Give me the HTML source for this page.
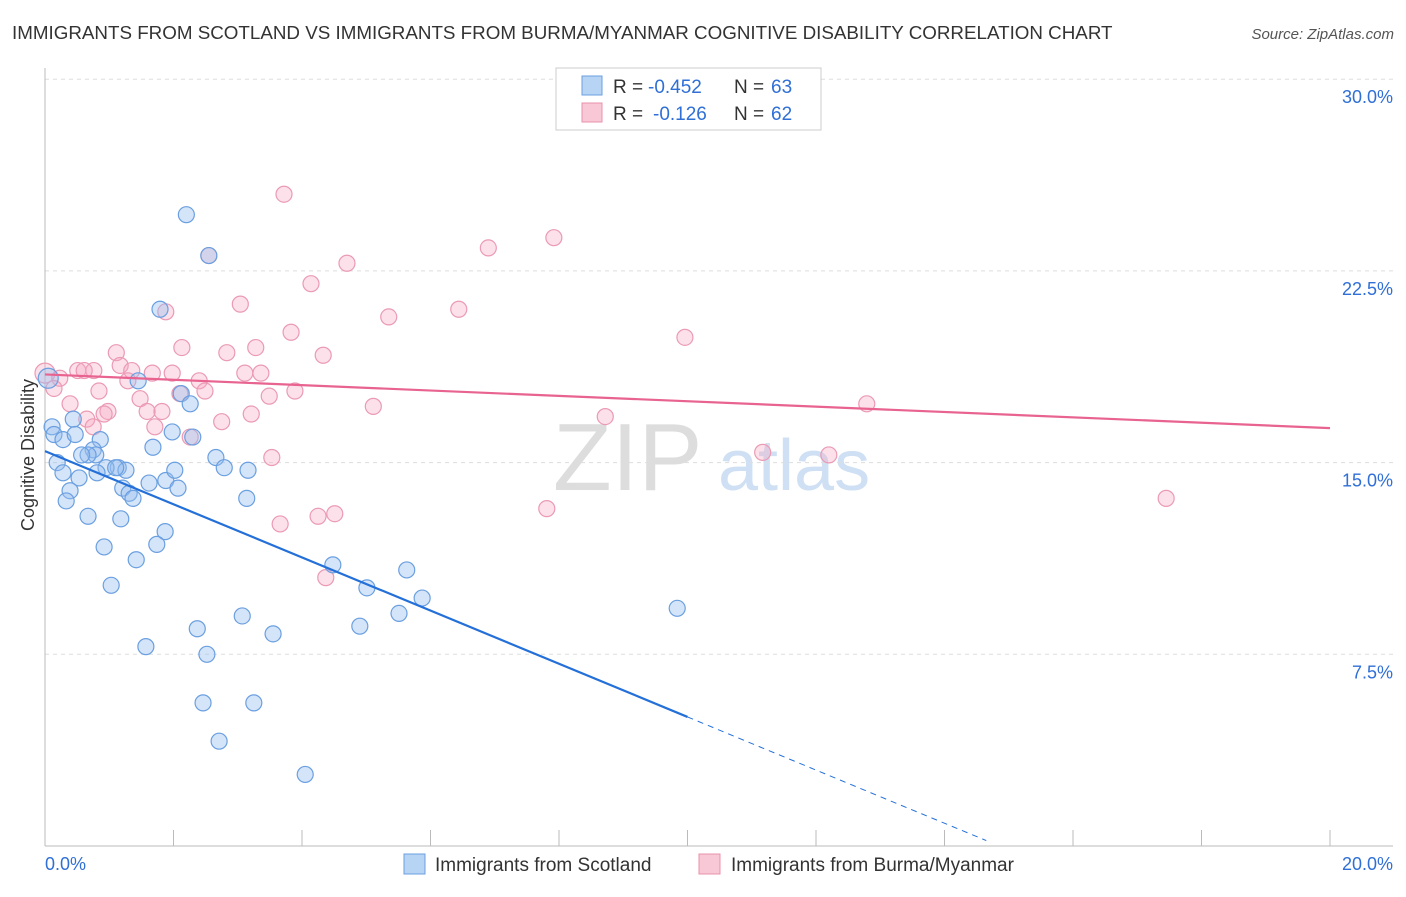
<!DOCTYPE html>
<html><head><meta charset="utf-8"><style>
body{margin:0;background:#fff;font-family:"Liberation Sans",sans-serif}
svg text{font-family:"Liberation Sans",sans-serif}
</style></head><body>
<svg id="c" width="1406" height="892">
<text x="12" y="39" font-size="18.8" fill="#333">IMMIGRANTS FROM SCOTLAND VS IMMIGRANTS FROM BURMA/MYANMAR COGNITIVE DISABILITY CORRELATION CHART</text>
<text x="1394" y="39" font-size="15" fill="#555" text-anchor="end" font-style="italic">Source: ZipAtlas.com</text>
<text x="553" y="490" font-size="96" fill="#ddd" font-family="Liberation Serif">ZIP</text>
<text x="718" y="490" font-size="72" fill="#cfe0f4">atlas</text>
<text x="34" y="455" font-size="18" fill="#333" text-anchor="middle" transform="rotate(-90 34 455)">Cognitive Disability</text>
<g id="grid"></g><g id="pts"></g><g id="lines"></g>
<g>
<rect x="556" y="68" width="265" height="62" fill="#fff" stroke="#ccc"/>
<rect x="582" y="76" width="20" height="19" fill="#b8d4f4" stroke="#6a9fe0"/>
<rect x="582" y="103" width="20" height="19" fill="#f9c8d6" stroke="#e890aa"/>
<text x="613" y="93" font-size="19" fill="#333">R =</text>
<text x="648" y="93" font-size="19" fill="#2f6fd6">-0.452</text>
<text x="734" y="93" font-size="19" fill="#333">N =</text>
<text x="771" y="93" font-size="19" fill="#2f6fd6">63</text>
<text x="613" y="120" font-size="19" fill="#333">R =</text>
<text x="653" y="120" font-size="19" fill="#2f6fd6">-0.126</text>
<text x="734" y="120" font-size="19" fill="#333">N =</text>
<text x="771" y="120" font-size="19" fill="#2f6fd6">62</text>
</g>
<g>
<rect x="404" y="854" width="21" height="20" fill="#b8d4f4" stroke="#6a9fe0"/>
<text x="435" y="871" font-size="19" fill="#333">Immigrants from Scotland</text>
<rect x="699" y="854" width="21" height="20" fill="#f9c8d6" stroke="#e890aa"/>
<text x="731" y="871" font-size="19" fill="#333">Immigrants from Burma/Myanmar</text>
</g>
<text x="45" y="870" font-size="18" fill="#2f6fd6">0.0%</text>
<text x="1393" y="870" font-size="18" fill="#2f6fd6" text-anchor="end">20.0%</text>
</svg>
<script>
const yTicks=[30,22.5,15,7.5];
const yTickLabels=["30.0%","22.5%","15.0%","7.5%"];
const xTicks=[0,2,4,6,8,10,12,14,16,18,20];
const blueX=[2.2,2.55,1.79,1.45,2.12,2.26,0.05,0.11,0.14,0.44,0.28,0.47,0.86,0.75,0.79,0.67,1.14,0.95,0.57,0.19,0.28,0.53,0.81,1.26,1.1,1.21,1.31,1.37,1.62,1.68,1.98,2.3,1.88,2.07,2.02,2.66,2.79,3.16,3.14,0.39,0.33,0.67,1.18,1.87,1.74,0.92,1.42,1.03,4.48,5.01,5.63,5.87,5.51,4.9,3.07,2.37,3.55,1.57,2.52,2.46,3.25,2.71,4.05,9.84];
const blueY=[24.7,23.1,21.0,18.2,17.7,17.3,18.3,16.4,16.1,16.7,15.9,16.1,15.9,15.5,15.3,15.3,14.8,14.8,15.3,15.0,14.6,14.4,14.6,14.7,14.8,14.0,13.8,13.6,14.2,15.6,16.2,16.0,14.3,14.0,14.7,15.2,14.8,14.7,13.6,13.9,13.5,12.9,12.8,12.3,11.8,11.7,11.2,10.2,11.0,10.1,10.8,9.7,9.1,8.6,9.0,8.5,8.3,7.8,7.5,5.6,5.6,4.1,2.8,9.3];
const pinkX=[3.72,2.55,4.7,7.92,6.9,4.14,3.04,1.88,5.35,6.44,3.83,9.96,2.13,2.83,3.28,1.11,4.33,0.0,0.23,0.51,0.76,0.61,1.17,1.35,1.67,1.98,3.11,3.36,2.4,1.29,0.84,2.1,2.49,3.49,3.89,1.48,0.39,0.98,0.92,1.59,1.82,5.11,3.21,2.75,0.65,0.75,1.71,2.26,8.72,12.79,11.17,12.2,3.53,7.81,4.51,4.25,3.66,4.37,17.45,0.14];
const pinkY=[25.5,23.1,22.8,23.8,23.4,22.0,21.2,20.9,20.7,21.0,20.1,19.9,19.5,19.3,19.5,19.3,19.2,18.5,18.3,18.6,18.6,18.6,18.8,18.6,18.5,18.5,18.5,18.5,18.2,18.2,17.8,17.7,17.8,17.6,17.8,17.5,17.3,17.0,16.9,17.0,17.0,17.2,16.9,16.6,16.7,16.4,16.4,16.0,16.8,17.3,15.4,15.3,15.2,13.2,13.0,12.9,12.6,10.5,13.6,17.9];
const X=v=>45+v*64.25, Y=v=>846-v*25.56;
const NS="http://www.w3.org/2000/svg";
function mk(t,a,p){const e=document.createElementNS(NS,t);for(const k in a)e.setAttribute(k,a[k]);p.appendChild(e);return e;}
const g=document.getElementById('grid');
yTicks.forEach((v,i)=>{
 const l=mk('line',{x1:45,x2:1393,y1:Y(v),y2:Y(v),stroke:'#ddd','stroke-dasharray':'4,4'},g);
 
 
 const t=mk('text',{x:1393,y:Y(v)+24,'font-size':18,fill:'#2f6fd6','text-anchor':'end'},g);
 t.textContent=yTickLabels[i];
 
 
});
mk('line',{x1:45,x2:45,y1:68,y2:846,stroke:'#bbb'},g);
mk('line',{x1:45,x2:1393,y1:846,y2:846,stroke:'#bbb'},g);
xTicks.forEach(v=>{const l=mk('line',{x1:X(v),x2:X(v),y1:830,y2:846,stroke:'#bbb'},g);
 
 });
const p=document.getElementById('pts');
pinkX.forEach((x,i)=>{const c=mk('circle',{cx:X(x),cy:Y(pinkY[i]),r:i==17?10:8,fill:'rgba(246,170,195,0.35)',stroke:'#eb9ab4','stroke-width':1.2},p);
 
 });
blueX.forEach((x,i)=>{const c=mk('circle',{cx:X(x),cy:Y(blueY[i]),r:i==6?10:8,fill:'rgba(150,190,240,0.4)',stroke:'#6a9fe0','stroke-width':1.2},p);
 
 });
const L=document.getElementById('lines');
const bA=15.45,bB=-1.04;
let e=mk('line',{x1:X(0),y1:Y(bA),x2:X(10),y2:Y(bA+bB*10),stroke:'#2470d8','stroke-width':2.2},L);


e=mk('line',{x1:X(10),y1:Y(bA+bB*10),x2:X(14.65),y2:Y(bA+bB*14.65),stroke:'#2470d8','stroke-width':1,'stroke-dasharray':'6,5'},L);


e=mk('line',{x1:X(0),y1:Y(18.45),x2:X(20),y2:Y(16.35),stroke:'#e8638f','stroke-width':2.2},L);


</script>
</body></html>
